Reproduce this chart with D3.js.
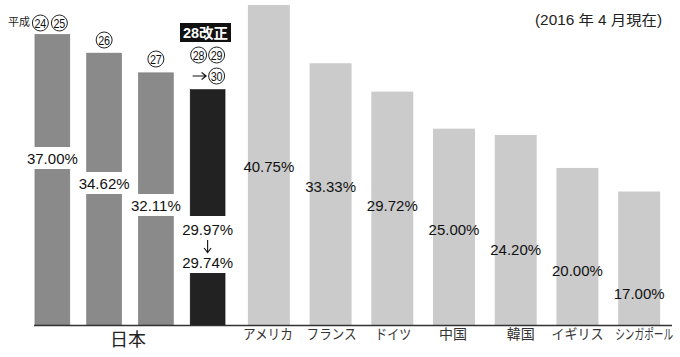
<!DOCTYPE html>
<html><head><meta charset="utf-8">
<script src="https://cdn.jsdelivr.net/npm/d3@7"></script>
<style>
html,body{margin:0;padding:0;background:#fff;}
text{font-family:"Liberation Sans","Noto Sans CJK JP",sans-serif;}
</style></head>
<body><svg id="c" width="680" height="357"></svg>
<script>
// ---- data ----
const japanEras = ["24・25", "26", "27", "28・29→30"];
const japanValues = [37.00, 34.62, 32.11, 29.74];
const japanReformFrom = 29.97;
const japanLabels = ["37.00%", "34.62%", "32.11%", "29.74%"];
const countries = ["アメリカ", "フランス", "ドイツ", "中国", "韓国", "イギリス", "シンガポール"];
const countryValues = [40.75, 33.33, 29.72, 25.00, 24.20, 20.00, 17.00];
const countryLabels = ["40.75%", "33.33%", "29.72%", "25.00%", "24.20%", "20.00%", "17.00%"];
const groupLabel = "日本";
const noteText = "(2016 年 4 月現在)";
const reformText = "28改正";

// ---- layout ----
const svg = d3.select("#c");
const base = 325;
const y = d3.scaleLinear().domain([0, 40.75]).range([base, 5]);
const xJ = d3.scaleBand().domain(d3.range(japanValues.length)).range([26.5, 233.5]).paddingInner(0.327).paddingOuter(0.1635);
const xC = d3.scaleBand().domain(countries).range([238, 670]).paddingInner(0.32).paddingOuter(0.16);
const jLabelY = [158, 183, 205];
const cLabelY = [166, 186, 205, 229, 249, 270, 293];
const cTickWidth = [50, 50, 36, 29, 28, 52, 58];
const cTickShift = [-1, 1, 1, -1, 5, 0, 5];

// Japan bars
svg.selectAll("rect.j").data(japanValues).join("rect")
  .attr("x", (d,i)=>xJ(i)).attr("width", xJ.bandwidth())
  .attr("y", (d,i)=> i===3 ? y(japanReformFrom) : y(d))
  .attr("height", (d,i)=> base - (i===3 ? y(japanReformFrom) : y(d)))
  .attr("fill", (d,i)=> i===3 ? "#222" : "#8a8a8a")
  .attr("stroke", (d,i)=> i===3 ? "#111" : "#777").attr("stroke-width", 0.6);

// Country bars
svg.selectAll("rect.c").data(countryValues).join("rect")
  .attr("x", (d,i)=>xC(countries[i])).attr("width", xC.bandwidth())
  .attr("y", d=>y(d)).attr("height", d=>base - y(d))
  .attr("fill", "#cbcbcb");

// Japan value labels with white backgrounds
japanLabels.slice(0,3).forEach((t,i)=>{
  const cx = xJ(i) + xJ.bandwidth()/2;
  svg.append("rect").attr("x", cx-27).attr("y", jLabelY[i]-11).attr("width", 54).attr("height", 22).attr("fill", "#fff");
  svg.append("text").attr("x", cx).attr("y", jLabelY[i]).attr("text-anchor","middle")
    .attr("dominant-baseline","central").attr("font-size", 15).attr("fill","#111").text(t);
});
{
  const cx = xJ(3) + xJ.bandwidth()/2;
  svg.append("rect").attr("x", cx-28).attr("y", 216).attr("width", 56).attr("height", 57).attr("fill", "#fff");
  svg.append("text").attr("x", cx).attr("y", 229).attr("text-anchor","middle")
    .attr("dominant-baseline","central").attr("font-size", 15).attr("fill","#111").text(japanReformFrom.toFixed(2) + "%");
  // down arrow
  svg.append("path").attr("d", `M${cx},240 V252 M${cx-3.5},248 L${cx},252.5 L${cx+3.5},248`)
    .attr("fill","none").attr("stroke","#111").attr("stroke-width",1.1);
  svg.append("text").attr("x", cx).attr("y", 262).attr("text-anchor","middle")
    .attr("dominant-baseline","central").attr("font-size", 15).attr("fill","#111").text(japanLabels[3]);
}

// Country value labels
svg.selectAll("text.cv").data(countryLabels).join("text")
  .attr("x", (d,i)=>xC(countries[i]) + xC.bandwidth()/2)
  .attr("y", (d,i)=>cLabelY[i]).attr("text-anchor","middle").attr("dominant-baseline","central")
  .attr("font-size", 15).attr("fill","#111").text(d=>d);

// Baseline
svg.append("line").attr("x1", 34).attr("x2", 672).attr("y1", base+0.5).attr("y2", base+0.5)
  .attr("stroke", "#333").attr("stroke-width", 1.3);

// Country axis
const ax = svg.append("g").attr("transform", `translate(0,${base})`)
  .call(d3.axisBottom(xC).tickSize(0).tickPadding(4));
ax.select(".domain").remove();
ax.selectAll(".tick text")
  .attr("font-size", 14).attr("fill","#333")
  .attr("font-family", "'Noto Sans CJK JP', sans-serif")
  .attr("text-anchor", "middle")
  .each(function(d,i){
    const nat = this.getComputedTextLength();
    const s = Math.min(1, cTickWidth[i] / nat);
    d3.select(this).attr("x", 0).attr("transform", `translate(${cTickShift[i]},0) scale(${s},1)`);
  });

// Japan group label
svg.append("text").attr("x", (xJ(0)+xJ(3)+xJ.bandwidth())/2 - 2).attr("y", 340)
  .attr("text-anchor","middle").attr("dominant-baseline","central")
  .attr("font-size", 18).attr("fill","#222").attr("font-family","'Noto Sans CJK JP', sans-serif").text(groupLabel);

// Note
svg.append("text").attr("x", 662).attr("y", 20).attr("text-anchor","end").attr("dominant-baseline","central")
  .attr("font-size", 14).attr("fill","#222").attr("font-family","'Noto Sans CJK JP', sans-serif")
  .attr("textLength", 127).attr("lengthAdjust","spacingAndGlyphs").text(noteText);

// Era annotations with circled numbers
function circ(cx, cy, num){
  svg.append("circle").attr("cx", cx).attr("cy", cy).attr("r", 8).attr("fill","#fff").attr("stroke","#222").attr("stroke-width",1);
  svg.append("text").attr("x", cx).attr("y", cy+0.5).attr("text-anchor","middle").attr("dominant-baseline","central")
    .attr("font-size", 13.5).attr("fill","#111")
    .attr("textLength", 12).attr("lengthAdjust","spacingAndGlyphs").text(num);
}
svg.append("text").attr("x", 8).attr("y", 22).attr("dominant-baseline","central").attr("font-size", 11)
  .attr("fill","#222").attr("font-family","'Noto Sans CJK JP', sans-serif").text("平成");
const c0 = xJ(0)+xJ.bandwidth()/2;
circ(c0-12, 23, "24"); circ(c0+7, 23, "25");
circ(xJ(1)+xJ.bandwidth()/2, 40, "26");
circ(xJ(2)+xJ.bandwidth()/2, 59, "27");
const c3 = xJ(3)+xJ.bandwidth()/2;
circ(c3-9, 55, "28"); circ(c3+9, 55, "29");
// right arrow
svg.append("path").attr("d", `M${c3-15},76 H${c3-2} M${c3-6},72.5 L${c3-1.5},76 L${c3-6},79.5`)
  .attr("fill","none").attr("stroke","#111").attr("stroke-width",1.1);
circ(c3+9, 76, "30");

// 28改正 box
svg.append("rect").attr("x", 180).attr("y", 23).attr("width", 51).attr("height", 19).attr("fill","#111");
svg.append("text").attr("x", 205.5).attr("y", 33).attr("text-anchor","middle").attr("dominant-baseline","central")
  .attr("font-size", 14).attr("font-weight","bold").attr("fill","#fff")
  .attr("font-family","'Noto Sans CJK JP', sans-serif")
  .attr("textLength", 45).attr("lengthAdjust","spacingAndGlyphs").text(reformText);
</script></body></html>
